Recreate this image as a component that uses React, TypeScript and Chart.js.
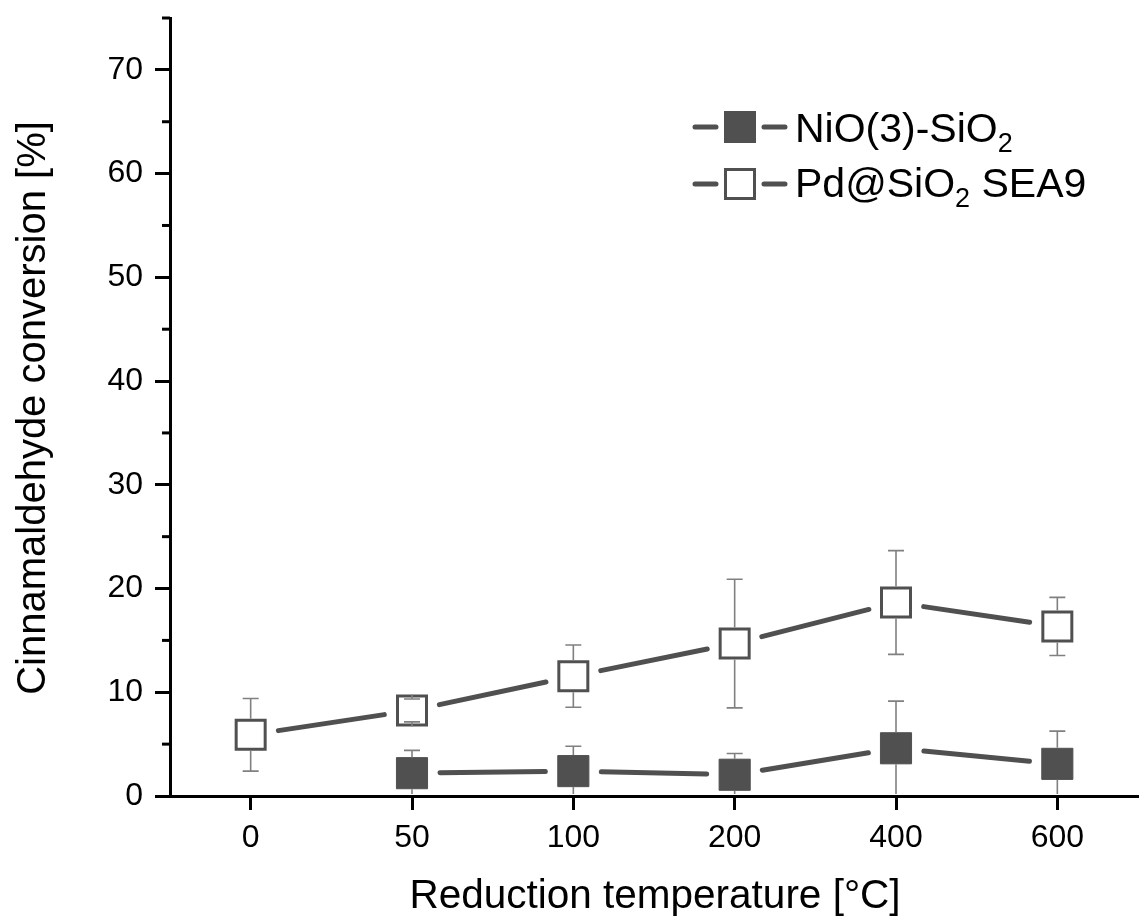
import React, { useEffect, useRef } from 'react';
import { Chart, registerables } from 'chart.js';

Chart.register(...registerables);

// ---- data ----
const categories = ['0', '50', '100', '200', '400', '600'];
const niValues: (number | null)[] = [null, 2.2, 2.4, 2.05, 4.6, 3.1];
const niErrors: (number | null)[] = [null, 2.2, 2.4, 2.05, 4.55, 3.15];
const pdValues: (number | null)[] = [5.9, 8.25, 11.55, 14.7, 18.65, 16.35];
const pdErrors: (number | null)[] = [3.5, 1.1, 3.0, 6.2, 5.0, 2.8];
const yMajorTicks = [0, 10, 20, 30, 40, 50, 60, 70];
const yMinorTicks = [5, 15, 25, 35, 45, 55, 65, 75];
const xTitle = 'Reduction temperature [°C]';
const yTitle = 'Cinnamaldehyde conversion [%]';
const niLegend = [{ t: 'NiO(3)-SiO' }, { t: '2', sub: true }];
const pdLegend = [{ t: 'Pd@SiO' }, { t: '2', sub: true }, { t: ' SEA9' }];

const FONT = '"Liberation Sans", Arial, Helvetica, sans-serif';
const DARK = '#505050';
const ERR = '#808080';

const drawParts = (ctx: CanvasRenderingContext2D, parts: any[], x: number, y: number) => {
  let cx = x;
  for (const p of parts) {
    if (p.sub) {
      ctx.font = `27px ${FONT}`;
      ctx.fillText(p.t, cx, y + 10);
    } else {
      ctx.font = `41px ${FONT}`;
      ctx.fillText(p.t, cx, y);
    }
    cx += ctx.measureText(p.t).width;
  }
};

const customPlugin = {
  id: 'customDraw',
  afterDatasetsDraw(chart: any) {
    const { ctx, chartArea, scales } = chart;
    const xs = scales.x;
    const ys = scales.y;
    const half = 16;
    // connecting lines with gaps
    ctx.save();
    ctx.lineWidth = 5;
    ctx.lineCap = 'round';
    ctx.strokeStyle = DARK;
    [niValues, pdValues].forEach((vals) => {
      const pts = vals.map((v, i) =>
        v == null ? null : { x: xs.getPixelForValue(i), y: ys.getPixelForValue(v) }
      );
      for (let i = 0; i < pts.length - 1; i++) {
        const a = pts[i];
        const b = pts[i + 1];
        if (!a || !b) continue;
        const dx = b.x - a.x;
        const dy = b.y - a.y;
        const len = Math.hypot(dx, dy);
        const g = 28;
        ctx.beginPath();
        ctx.moveTo(a.x + (dx / len) * g, a.y + (dy / len) * g);
        ctx.lineTo(b.x - (dx / len) * g, b.y - (dy / len) * g);
        ctx.stroke();
      }
    });
    ctx.restore();

    // error bars
    ctx.save();
    ctx.beginPath();
    ctx.rect(chartArea.left, chartArea.top, chartArea.right - chartArea.left, chartArea.bottom - chartArea.top - 2);
    ctx.clip();
    ctx.lineWidth = 1.6;
    ctx.strokeStyle = ERR;
    [
      [niValues, niErrors],
      [pdValues, pdErrors],
    ].forEach(([vals, errs]) => {
      vals.forEach((v, i) => {
        const e = errs[i];
        if (v == null || e == null) return;
        const px = xs.getPixelForValue(i);
        const c = ys.getPixelForValue(v);
        const top = ys.getPixelForValue(v + e);
        const bot = ys.getPixelForValue(v - e);
        ctx.beginPath();
        ctx.moveTo(px, top);
        ctx.lineTo(px, c - half);
        ctx.moveTo(px, bot);
        ctx.lineTo(px, c + half);
        ctx.moveTo(px - 8, top);
        ctx.lineTo(px + 8, top);
        ctx.moveTo(px - 8, bot);
        ctx.lineTo(px + 8, bot);
        ctx.stroke();
      });
    });
    ctx.restore();
  },
  afterDraw(chart: any) {
    const { ctx, chartArea, scales } = chart;
    const ys = scales.y;
    ctx.save();
    // minor ticks on y
    ctx.strokeStyle = '#000';
    ctx.lineWidth = 3;
    yMinorTicks.forEach((v) => {
      const py = ys.getPixelForValue(v);
      ctx.beginPath();
      ctx.moveTo(chartArea.left - 8, py);
      ctx.lineTo(chartArea.left, py);
      ctx.stroke();
    });
    // axis titles
    ctx.fillStyle = '#000';
    ctx.textAlign = 'center';
    ctx.textBaseline = 'alphabetic';
    ctx.font = `40.5px ${FONT}`;
    ctx.fillText(xTitle, (chartArea.left + chartArea.right) / 2 + 1, 908);
    ctx.save();
    ctx.font = `40px ${FONT}`;
    ctx.translate(45, (chartArea.top + chartArea.bottom) / 2 + 1);
    ctx.rotate(-Math.PI / 2);
    ctx.fillText(yTitle, 0, 0);
    ctx.restore();

    // legend
    ctx.textAlign = 'left';
    const rows = [
      { parts: niLegend, cy: 127, base: 142, filled: true },
      { parts: pdLegend, cy: 184, base: 197, filled: false },
    ];
    rows.forEach((r) => {
      ctx.strokeStyle = DARK;
      ctx.lineWidth = 5;
      ctx.lineCap = 'round';
      ctx.beginPath();
      ctx.moveTo(695, r.cy);
      ctx.lineTo(716, r.cy);
      ctx.moveTo(764, r.cy);
      ctx.lineTo(785, r.cy);
      ctx.stroke();
      if (r.filled) {
        ctx.fillStyle = DARK;
        ctx.fillRect(724, r.cy - 16, 32, 32);
      } else {
        ctx.fillStyle = '#fff';
        ctx.fillRect(725.5, r.cy - 14.5, 29, 29);
        ctx.lineWidth = 3;
        ctx.strokeRect(725.5, r.cy - 14.5, 29, 29);
      }
      ctx.fillStyle = '#000';
      drawParts(ctx, r.parts, 795, r.base);
    });
    ctx.restore();
  },
};

export default function App() {
  const canvasRef = useRef<HTMLCanvasElement | null>(null);

  useEffect(() => {
    const canvas = canvasRef.current;
    if (!canvas) return;
    const chart = new Chart(canvas, {
      type: 'line',
      data: {
        labels: categories,
        datasets: [
          {
            label: 'NiO(3)-SiO2',
            data: niValues,
            showLine: false,
            pointStyle: 'rect',
            pointRadius: 22,
            pointHoverRadius: 22,
            backgroundColor: DARK,
            borderColor: DARK,
            borderWidth: 1,
          },
          {
            label: 'Pd@SiO2 SEA9',
            data: pdValues,
            showLine: false,
            pointStyle: 'rect',
            pointRadius: 20.5,
            pointHoverRadius: 20.5,
            backgroundColor: '#ffffff',
            borderColor: DARK,
            borderWidth: 3,
            pointBorderWidth: 3,
          },
        ],
      },
      options: {
        animation: false,
        responsive: false,
        maintainAspectRatio: false,
        events: [],
        layout: { autoPadding: false, padding: { top: 18, right: 1, left: 0, bottom: 0 } },
        plugins: {
          legend: { display: false },
          tooltip: { enabled: false },
        },
        scales: {
          x: {
            type: 'category',
            offset: true,
            grid: {
              offset: false,
              drawOnChartArea: false,
              drawTicks: true,
              tickLength: 14,
              tickWidth: 3,
              tickColor: '#000',
            },
            border: { display: true, color: '#000', width: 3 },
            ticks: {
              color: '#000',
              font: { family: FONT, size: 32 },
              padding: 9,
              maxRotation: 0,
              autoSkip: false,
            },
            afterFit: (s: any) => {
              s.height = 122;
              s.paddingLeft = 0;
              s.paddingRight = 0;
            },
          },
          y: {
            min: 0,
            max: 75,
            ticks: {
              stepSize: 5,
              autoSkip: false,
              color: '#000',
              font: { family: FONT, size: 32 },
              padding: 12,
              callback: (v: any) => (yMajorTicks.includes(Number(v)) ? String(v) : ''),
            },
            grid: {
              drawOnChartArea: false,
              drawTicks: true,
              tickLength: 15,
              tickWidth: 3,
              tickColor: (c: any) =>
                c.tick && yMajorTicks.includes(c.tick.value) ? '#000' : 'rgba(0,0,0,0)',
            },
            border: { display: true, color: '#000', width: 3 },
            afterFit: (s: any) => {
              s.width = 170;
              s.paddingTop = 0;
              s.paddingBottom = 0;
            },
          },
        },
      },
      plugins: [customPlugin],
    } as any);
    return () => chart.destroy();
  }, []);

  return (
    <div style={{ position: 'fixed', left: 0, top: 0, width: 1139, height: 918, background: '#fff' }}>
      <canvas ref={canvasRef} width={1139} height={918} style={{ display: 'block', width: 1139, height: 918 }} />
    </div>
  );
}
